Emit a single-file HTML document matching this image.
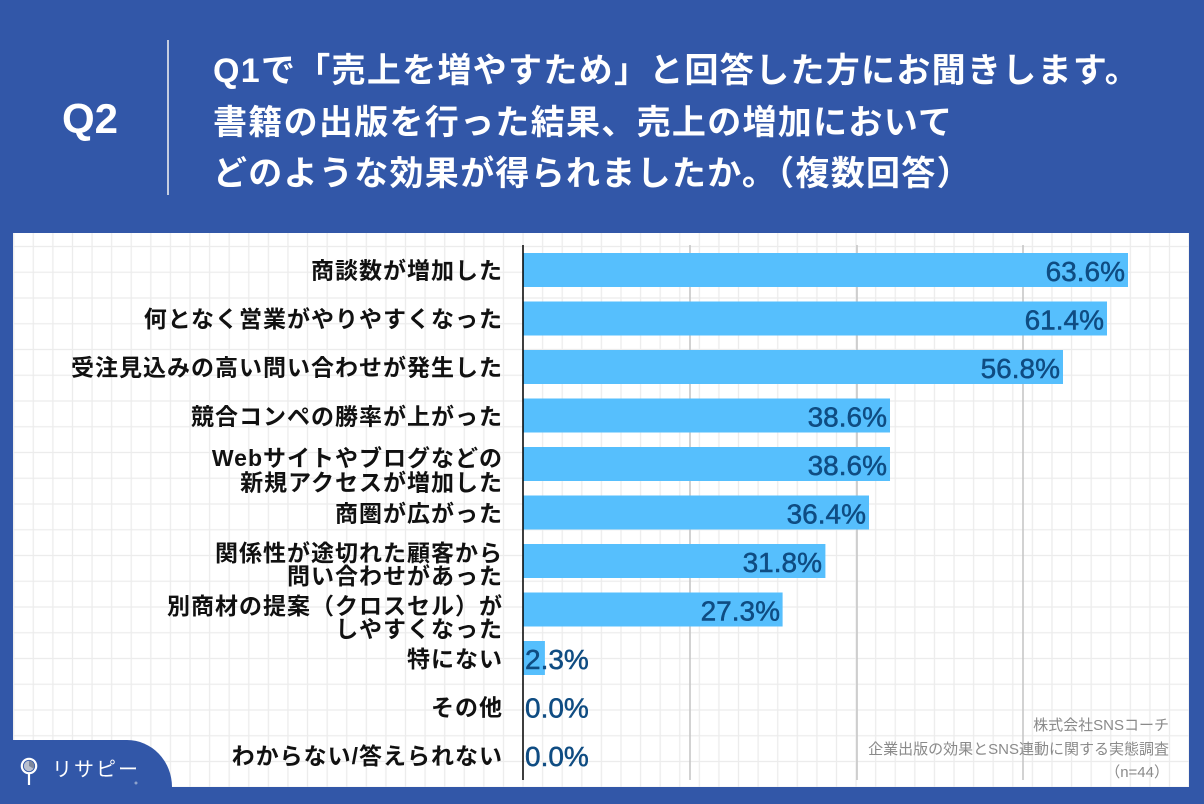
<!DOCTYPE html>
<html><head><meta charset="utf-8"><style>
html,body{margin:0;padding:0;background:#3257a8;}
svg{display:block;}
text{font-family:"Liberation Sans","Noto Sans CJK JP",sans-serif;}
.lb{font-size:23px;font-weight:bold;fill:#111;letter-spacing:1px;}
.vl{font-size:28px;fill:#0f4c82;stroke:#0f4c82;stroke-width:0.5px;}
.src{font-size:15px;fill:#8a8a8a;}
</style></head><body>
<svg width="1204" height="804" viewBox="0 0 1204 804" xmlns="http://www.w3.org/2000/svg">
<defs>
<pattern id="g" x="12.7" y="245.5" width="19.59" height="25.75" patternUnits="userSpaceOnUse">
<path d="M1 0V25.75M0 1H19.59" stroke="#ececec" stroke-width="1.3" fill="none"/>
</pattern>
</defs>
<rect width="1204" height="804" fill="#3257a8"/>
<rect x="13" y="233" width="1176" height="554" fill="#fff"/>
<rect x="13" y="233" width="1176" height="554" fill="url(#g)"/>

<!-- header -->
<text x="62" y="133" fill="#fff" style="font-size:42px;font-weight:bold;font-family:'Liberation Sans',sans-serif;">Q2</text>
<line x1="168" y1="40" x2="168" y2="195" stroke="#c5cde0" stroke-width="2"/>
<g fill="#fff" style="font-size:34px;font-weight:bold;letter-spacing:1.3px;">
<text x="213" y="82">Q1で「売上を増やすため」と回答した方にお聞きします。</text>
<text x="213" y="134">書籍の出版を行った結果、売上の増加において</text>
<text x="213" y="185">どのような効果が得られましたか。（複数回答）</text>
</g>

<!-- major gridlines -->
<g stroke="#c4c4c4" stroke-width="1.5">
<line x1="690" y1="245" x2="690" y2="780"/>
<line x1="857" y1="245" x2="857" y2="780"/>
<line x1="1023" y1="245" x2="1023" y2="780"/>
</g>

<!-- bars -->
<g fill="#56bffd">
<rect x="523" y="253" width="605" height="34"/>
<rect x="523" y="301.5" width="584" height="34"/>
<rect x="523" y="350" width="540" height="34"/>
<rect x="523" y="398.5" width="367" height="34"/>
<rect x="523" y="447" width="367" height="34"/>
<rect x="523" y="495.5" width="346" height="34"/>
<rect x="523" y="544" width="302.4" height="34"/>
<rect x="523" y="592.5" width="259.6" height="34"/>
<rect x="523" y="641" width="21.9" height="34"/>
</g>
<line x1="523" y1="245" x2="523" y2="780" stroke="#000" stroke-width="1.5"/>

<!-- values -->
<g class="vl">
<text x="1125" y="281" text-anchor="end">63.6%</text>
<text x="1104" y="329.5" text-anchor="end">61.4%</text>
<text x="1060" y="378" text-anchor="end">56.8%</text>
<text x="887" y="426.5" text-anchor="end">38.6%</text>
<text x="887" y="475" text-anchor="end">38.6%</text>
<text x="866" y="523.5" text-anchor="end">36.4%</text>
<text x="822" y="572" text-anchor="end">31.8%</text>
<text x="780" y="620.5" text-anchor="end">27.3%</text>
<text x="525" y="669">2.3%</text>
<text x="525" y="717.5">0.0%</text>
<text x="525" y="766">0.0%</text>
</g>

<!-- labels -->
<g class="lb" text-anchor="end">
<text x="503" y="278.5">商談数が増加した</text>
<text x="503" y="327">何となく営業がやりやすくなった</text>
<text x="503" y="375.5">受注見込みの高い問い合わせが発生した</text>
<text x="503" y="424.5">競合コンペの勝率が上がった</text>
<text x="503" y="466">Webサイトやブログなどの</text>
<text x="503" y="490.5">新規アクセスが増加した</text>
<text x="503" y="521.5">商圏が広がった</text>
<text x="503" y="561">関係性が途切れた顧客から</text>
<text x="503" y="584">問い合わせがあった</text>
<text x="503" y="614">別商材の提案（クロスセル）が</text>
<text x="503" y="637">しやすくなった</text>
<text x="503" y="667">特にない</text>
<text x="503" y="715.5">その他</text>
<text x="503" y="764">わからない/答えられない</text>
</g>

<!-- source -->
<g class="src" text-anchor="end">
<text x="1169" y="730">株式会社SNSコーチ</text>
<text x="1169" y="754">企業出版の効果とSNS連動に関する実態調査</text>
<text x="1169" y="777">（n=44）</text>
</g>

<!-- bottom-left tab & logo -->
<path d="M0 740 H127 A45 47 0 0 1 172 787 V804 H0 Z" fill="#3257a8"/>
<circle cx="29" cy="766" r="5.2" fill="#b9c0cf"/>
<path d="M29 766 L29 760.8 A5.2 5.2 0 0 1 33.5 768.6 Z" fill="#7d879c"/>
<circle cx="29" cy="766" r="7.2" fill="none" stroke="#fff" stroke-width="2.2"/>
<line x1="29" y1="773.5" x2="29" y2="785" stroke="#fff" stroke-width="2.2"/>
<text x="52" y="776" fill="#fff" style="font-size:20px;letter-spacing:2px;">リサピー</text>
<circle cx="136" cy="783" r="1.5" fill="#8ea2cc"/>
</svg>
</body></html>
